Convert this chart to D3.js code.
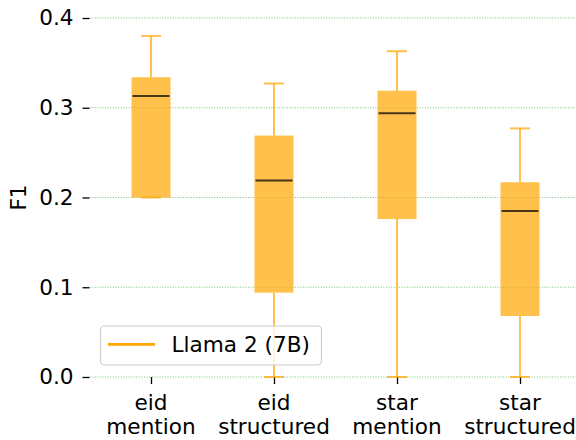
<!DOCTYPE html>
<html><head><meta charset="utf-8">
<script src="https://cdn.jsdelivr.net/npm/d3@7"></script>
<style>body{margin:0;background:#fff}svg{display:block;font-family:"DejaVu Sans",sans-serif}</style>
</head><body><svg id="c" width="576" height="440"></svg>
<script>
const categories = ["eid\nmention", "eid\nstructured", "star\nmention", "star\nstructured"];
const whiskerLow = [0.200, 0.000, 0.000, 0.000];
const q1 = [0.200, 0.094, 0.176, 0.068];
const median = [0.313, 0.219, 0.294, 0.185];
const q3 = [0.334, 0.269, 0.319, 0.217];
const whiskerHigh = [0.380, 0.327, 0.363, 0.277];
const yTicks = [0.0, 0.1, 0.2, 0.3, 0.4];
const seriesName = "Llama 2 (7B)";

(function () {
const svg = d3.select("#c");
const FS = 21.6;
const mLeft = 89.5, mRight = 581.5, mTop = 18, mBottom = 377;
const y = d3.scaleLinear().domain([0, 0.4]).range([mBottom, mTop]);
const x = d3.scaleLinear().domain([0.5, 4.5]).range([mLeft, mRight]);
const boxW = 39, capW = 20;

// grid
svg.append("g").selectAll("line").data(yTicks).join("line")
  .attr("x1", mLeft).attr("x2", 576).attr("y1", d => y(d)).attr("y2", d => y(d))
  .attr("stroke", "#2ca02c").attr("stroke-opacity", 0.8).attr("stroke-width", 0.8)
  .attr("stroke-dasharray", "1,1.6");

// y axis
const ya = svg.append("g").attr("transform", `translate(${mLeft},0)`)
  .call(d3.axisLeft(y).tickValues(yTicks).tickFormat(d3.format(".1f")).tickSize(7).tickPadding(9));
ya.select(".domain").remove();
ya.selectAll("line").attr("stroke", "#000").attr("stroke-width", 1.3);
ya.selectAll("text").style("font-size", FS + "px").attr("fill", "#000").style("font-family", "DejaVu Sans");

// x axis
const xa = svg.append("g").attr("transform", `translate(0,${mBottom})`)
  .call(d3.axisBottom(x).tickValues([1,2,3,4]).tickFormat("").tickSize(7));
xa.select(".domain").remove();
xa.selectAll("line").attr("stroke", "#000").attr("stroke-width", 1.3);
categories.forEach((c, i) => {
  const lines = c.split("\n");
  const t = svg.append("text").attr("x", x(i + 1)).attr("y", 409.5)
    .attr("text-anchor", "middle").style("font-size", FS + "px").attr("fill", "#000");
  lines.forEach((l, j) => t.append("tspan").attr("x", x(i + 1)).attr("dy", j ? 24.5 : 0).text(l));
});

// y label
svg.append("text").attr("transform", `translate(26,${(mTop + mBottom) / 2}) rotate(-90)`)
  .attr("text-anchor", "middle").style("font-size", FS + "px").attr("fill", "#000").text("F1");

// boxes
const orange = "#FFA500";
const g = svg.append("g");
categories.forEach((c, i) => {
  const cx = x(i + 1);
  const w = g.append("g").attr("stroke", orange).attr("stroke-opacity", 0.7).attr("stroke-width", 2);
  w.append("line").attr("x1", cx).attr("x2", cx).attr("y1", y(q3[i])).attr("y2", y(whiskerHigh[i]));
  w.append("line").attr("x1", cx).attr("x2", cx).attr("y1", y(q1[i])).attr("y2", y(whiskerLow[i]));
  w.append("line").attr("x1", cx - capW / 2).attr("x2", cx + capW / 2).attr("y1", y(whiskerHigh[i])).attr("y2", y(whiskerHigh[i]));
  w.append("line").attr("x1", cx - capW / 2).attr("x2", cx + capW / 2).attr("y1", y(whiskerLow[i])).attr("y2", y(whiskerLow[i]));
  g.append("rect").attr("x", cx - boxW / 2).attr("width", boxW)
    .attr("y", y(q3[i])).attr("height", y(q1[i]) - y(q3[i]))
    .attr("fill", orange).attr("fill-opacity", 0.7);
  g.append("line").attr("x1", cx - boxW / 2 + 1).attr("x2", cx + boxW / 2 - 1)
    .attr("y1", y(median[i])).attr("y2", y(median[i]))
    .attr("stroke", "#000").attr("stroke-opacity", 0.72).attr("stroke-width", 2);
});

// legend
const lg = svg.append("g");
lg.append("rect").attr("x", 100.5).attr("y", 326).attr("width", 221).attr("height", 39).attr("rx", 4)
  .attr("fill", "#fff").attr("fill-opacity", 0.8).attr("stroke", "#ccc").attr("stroke-width", 1.2);
lg.append("line").attr("x1", 108).attr("x2", 155).attr("y1", 344.3).attr("y2", 344.3)
  .attr("stroke", orange).attr("stroke-width", 2.8);
lg.append("text").attr("x", 171.5).attr("y", 352.3).style("font-size", FS + "px").attr("fill", "#000").text(seriesName);
})();
</script></body></html>
